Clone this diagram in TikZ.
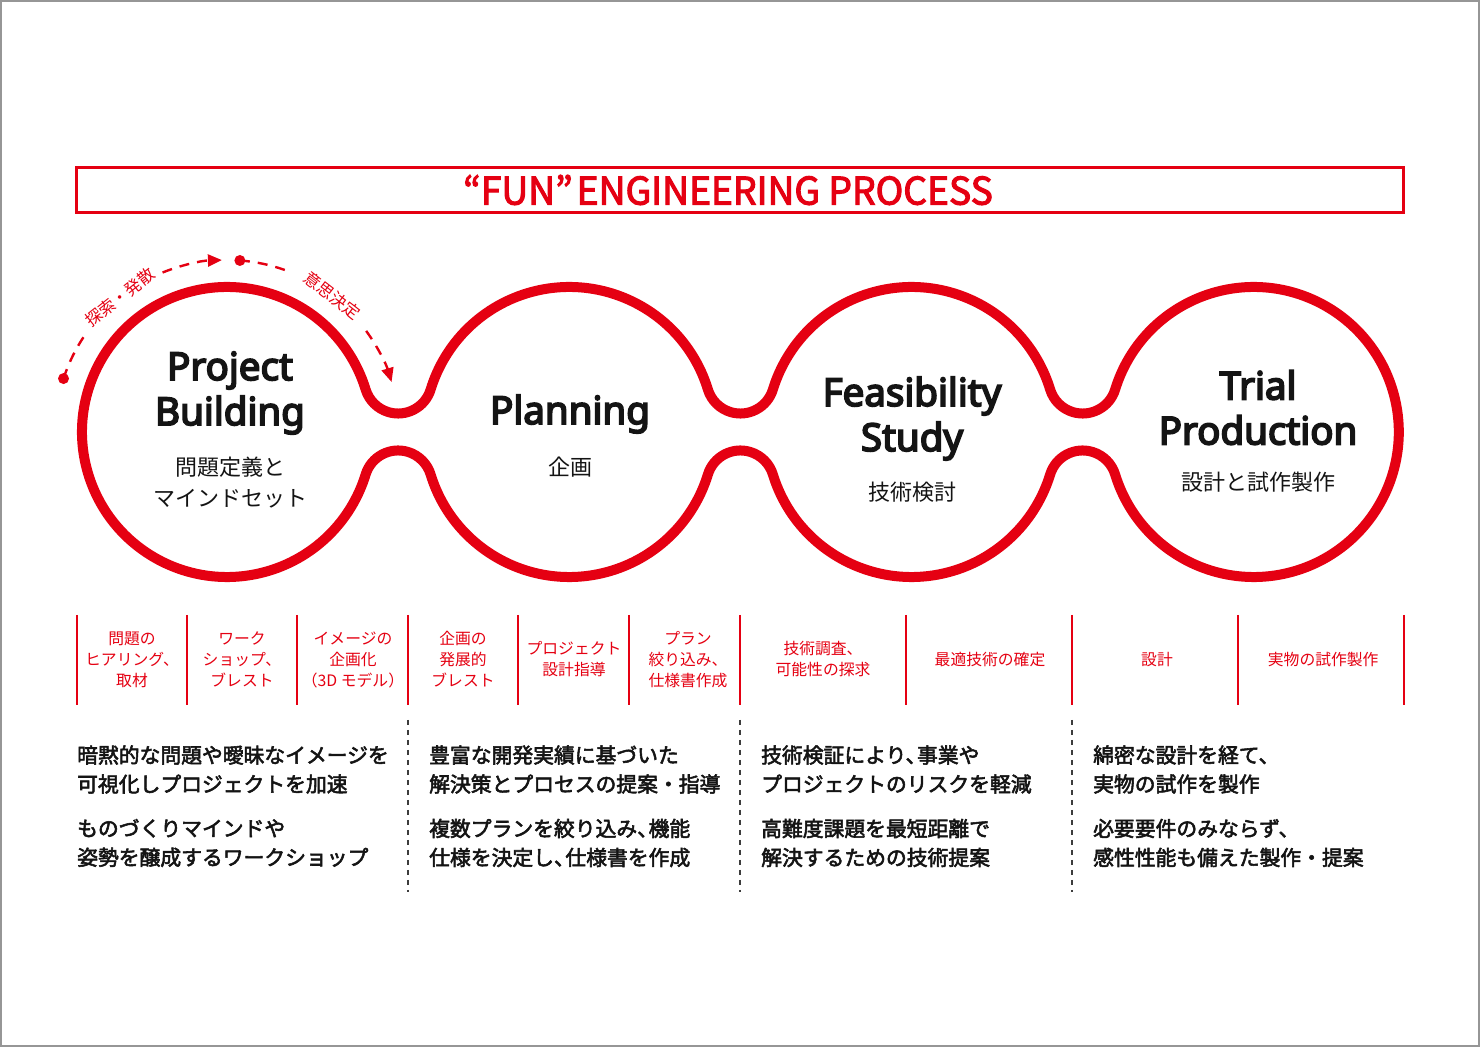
\documentclass[tikz,border=0pt]{standalone}
\usepackage{fontspec}
\setmainfont{Noto Sans CJK JP}
\newfontfamily\jp{Noto Sans CJK JP}
\newfontfamily\jpb[FakeBold=2.6]{Noto Sans CJK JP}
\newfontfamily\titlefont[FakeBold=2.8]{Noto Sans CJK JP}
\newfontfamily\latb[FakeBold=4.5]{Noto Sans}
\usetikzlibrary{arrows.meta}

\newcommand{\fsz}[2]{\fontsize{#1}{#2}\selectfont}
\newcommand{\tou}{、\kern-0.45em}

\begin{document}
\begin{tikzpicture}[x=1pt,y=1pt]
  \definecolor{fred}{RGB}{229,0,18}
  \definecolor{ink}{RGB}{20,20,20}
  \definecolor{frame}{RGB}{150,150,150}
  \definecolor{dashgray}{RGB}{60,60,60}

  \tikzset{
    outline/.style={draw=fred, line width=10pt, line join=round},
    dashline/.style={draw=fred, line width=2.4pt, dash pattern=on 10pt off 8pt},
    arclabel/.style={text=fred, font=\jp\fsz{16.5}{18}, inner sep=0pt},
    phase/.style={text=ink, font=\latb\fsz{38.5}{45}, align=center, inner sep=0pt},
    phasesub/.style={text=ink, font=\jp\fsz{22}{31}, align=center, inner sep=0pt},
    task/.style={text=fred, font=\jp\fsz{15.8}{21}, align=center, inner sep=0pt},
    note/.style={text=ink, font=\jpb\fsz{20.8}{29}, align=left, anchor=west, inner sep=0pt},
  }

  \useasboundingbox (0,0) rectangle (1480,1047);
  \fill[white] (0,0) rectangle (1480,1047);
  \draw[frame, line width=2pt] (1,1) rectangle (1479,1046);

  % title bar
  \draw[fred, line width=3pt] (76.5,879.5) rectangle (1403,834.5);
  \node[text=fred, font=\titlefont\fsz{38}{40}, inner sep=0pt, xscale=0.98] (title) at (728,857)
    {“FUN”\hspace{4pt}ENGINEERING PROCESS};

  % circles
  \coordinate (c1) at (227,615);
  \coordinate (c2) at (569.33,615);
  \coordinate (c3) at (911.67,615);
  \coordinate (c4) at (1254,615);
  \def\Rb{145}\def\rf{34}\def\ang{17.05}

  \draw[outline] (c1) ++(\ang:\Rb)
    arc[start angle=\ang, end angle=360-\ang, radius=\Rb]
    arc[start angle=180-\ang, end angle=\ang, radius=\rf]
    arc[start angle=180+\ang, end angle=360-\ang, radius=\Rb]
    arc[start angle=180-\ang, end angle=\ang, radius=\rf]
    arc[start angle=180+\ang, end angle=360-\ang, radius=\Rb]
    arc[start angle=180-\ang, end angle=\ang, radius=\rf]
    arc[start angle=180+\ang, end angle=540-\ang, radius=\Rb]
    arc[start angle=360-\ang, end angle=180+\ang, radius=\rf]
    arc[start angle=\ang, end angle=180-\ang, radius=\Rb]
    arc[start angle=360-\ang, end angle=180+\ang, radius=\rf]
    arc[start angle=\ang, end angle=180-\ang, radius=\Rb]
    arc[start angle=360-\ang, end angle=180+\ang, radius=\rf]
    -- cycle;

  % dashed loop round the first phase
  \def\Rd{172}
  \coordinate (explore) at ([shift={(161.9:\Rd)}]c1);
  \coordinate (decide) at ([shift={(85.7:\Rd)}]c1);
  \fill[fred] (explore) circle (5.5pt);
  \fill[fred] (decide) circle (5.5pt);
  \draw[dashline] (explore) arc[start angle=161.9, end angle=145, radius=\Rd];
  \draw[dashline, -{Triangle[length=14pt, width=12pt]}] ([shift={(112:\Rd)}]c1)
    arc[start angle=112, end angle=91.7, radius=\Rd];
  \draw[dashline] (decide) arc[start angle=85.7, end angle=68, radius=\Rd];
  \draw[dashline, -{Triangle[length=14pt, width=12pt]}] ([shift={(36:\Rd)}]c1)
    arc[start angle=36, end angle=16.9, radius=\Rd];
  \node[arclabel, rotate=38.5] (lexplore) at ([shift={(128.5:\Rd)}]c1) {探索・発散};
  \node[arclabel, rotate=-37.7] (ldecide) at ([shift={(52.3:\Rd)}]c1) {意思決定};

  % phase names
  \node[phase] (pb) at (230,654) {Project\\Building};
  \node[phasesub] (pbsub) at (230,564.5) {問題定義と\\マインドセット};
  \node[phase] (pl) at (570,633) {Planning};
  \node[phasesub] (plsub) at (570,580) {企画};
  \node[phase] (fs) at (912,628.5) {Feasibility\\Study};
  \node[phasesub] (fssub) at (912,555) {技術検討};
  \node[phase] (tp) at (1258,639.5) {Trial\\Production};
  \node[phasesub] (tpsub) at (1258,565) {設計と試作製作};

  % task columns
  \foreach \x in {77,187,297,408,518,629,740,906,1072,1238,1404} {
    \draw[fred, line width=1.5pt] (\x,432) -- (\x,342);
  }
  \foreach \x/\txt [count=\i] in {
    132/{問題の\\ヒアリング、\\取材},
    242/{ワーク\\ショップ、\\ブレスト},
    353/{イメージの\\企画化\\（3D モデル）},
    463/{企画の\\発展的\\ブレスト},
    574/{プロジェクト\\設計指導},
    688/{プラン\\絞り込み、\\仕様書作成},
    823/{技術調査、\\可能性の探求},
    990/{最適技術の確定},
    1157/{設計},
    1325/{実物の試作製作}
  } {
    \node[task] (task\i) at (\x,387.5) {\txt};
  }

  % descriptions
  \foreach \x in {408,740,1072} {
    \draw[dashgray, line width=1.5pt, dash pattern=on 5pt off 5pt] (\x,327) -- (\x,155);
  }
  \node[note] (noteA1) at (77,277.5) {暗黙的な問題や曖昧なイメージを\\可視化しプロジェクトを加速};
  \node[note] (noteB1) at (77,204) {ものづくりマインドや\\姿勢を醸成するワークショップ};
  \node[note] (noteA2) at (429,277.5) {豊富な開発実績に基づいた\\解決策とプロセスの提案・指導};
  \node[note] (noteB2) at (429,204) {複数プランを絞り込み\tou 機能\\仕様を決定し\tou 仕様書を作成};
  \node[note] (noteA3) at (761,277.5) {技術検証により\tou 事業や\\プロジェクトのリスクを軽減};
  \node[note] (noteB3) at (761,204) {高難度課題を最短距離で\\解決するための技術提案};
  \node[note] (noteA4) at (1093,277.5) {綿密な設計を経て、\\実物の試作を製作};
  \node[note] (noteB4) at (1093,204) {必要要件のみならず、\\感性性能も備えた製作・提案};
\end{tikzpicture}
\end{document}
